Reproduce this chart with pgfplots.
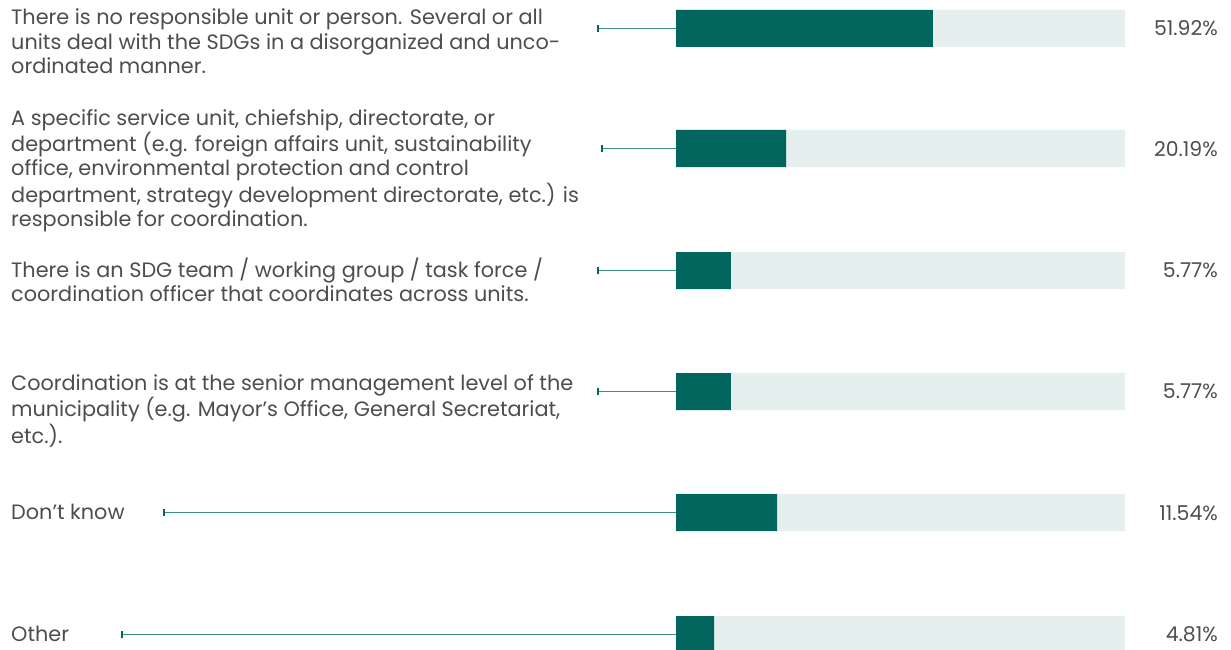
\documentclass[border=0pt]{standalone}
\usepackage{fontspec}
\setmainfont{Poppins}
\usepackage{pgfplots}
\pgfplotsset{compat=1.18}
\usetikzlibrary{arrows.meta}

\definecolor{barDark}{HTML}{02665E}
\definecolor{barLight}{HTML}{E5EFED}
\definecolor{leader}{HTML}{3F8E84}
\definecolor{txt}{HTML}{4D4D4D}

\tikzset{leaderline/.style={leader, line width=1.6pt, mark=none,
    {Bar[width=7pt,line width=1.6pt,color=barDark]}-}}

\begin{document}
\begin{tikzpicture}
\useasboundingbox (0pt,0pt) rectangle (1231pt,650pt);
% canvas axis in pixel units: labels, leader lines, percentages
\begin{axis}[
    at={(0pt,0pt)}, anchor=south west,
    width=1231pt, height=650pt, scale only axis,
    xmin=0, xmax=1231, ymin=0, ymax=650, y dir=reverse,
    hide axis, clip=false,
]
\addplot[leaderline] coordinates {(597,28.5) (676,28.5)};
\addplot[leaderline] coordinates {(601,148.5) (676,148.5)};
\addplot[leaderline] coordinates {(597,270.5) (676,270.5)};
\addplot[leaderline] coordinates {(597,391.5) (676,391.5)};
\addplot[leaderline] coordinates {(163,512.5) (676,512.5)};
\addplot[leaderline] coordinates {(121,634.5) (676,634.5)};

\tikzset{lab/.style={anchor=base west, text=txt, inner sep=0pt,
    font=\fontsize{20.8}{24.2}\selectfont}}
\tikzset{pct/.style={anchor=base east, text=txt, inner sep=0pt,
    font=\fontsize{20.4}{24}\selectfont}}
\node[lab] at (axis cs:11,25) {\begin{tabular}[t]{@{}l@{}}There is no responsible unit or person. Several or all\\units deal with the SDGs in a disorganized and unco-\\ordinated manner.\end{tabular}};
\node[lab] at (axis cs:11,125) {\begin{tabular}[t]{@{}l@{}}A specific service unit, chiefship, directorate, or\\department (e.g. foreign affairs unit, sustainability\\office, environmental protection and control\\department, strategy development directorate, etc.) is\\responsible for coordination.\end{tabular}};
\node[lab] at (axis cs:11,277) {\begin{tabular}[t]{@{}l@{}}There is an SDG team / working group / task force /\\coordination officer that coordinates across units.\end{tabular}};
\node[lab] at (axis cs:11,390) {\begin{tabular}[t]{@{}l@{}}Coordination is at the senior management level of the\\municipality (e.g. Mayor's Office, General Secretariat,\\etc.).\end{tabular}};
\node[lab] at (axis cs:11,519) {Don’t know};
\node[lab] at (axis cs:11,641) {Other};

\node[pct] at (axis cs:1218,36) {51.92\%};
\node[pct] at (axis cs:1218,157) {20.19\%};
\node[pct] at (axis cs:1218,277) {5.77\%};
\node[pct] at (axis cs:1218,398) {5.77\%};
\node[pct] at (axis cs:1218,520) {11.54\%};
\node[pct] at (axis cs:1218,641) {4.81\%};
\end{axis}

% bar axis: 0..100 spans the light track (676px..1125px)
\begin{axis}[
    at={(676pt,0pt)}, anchor=south west,
    width=449pt, height=650pt, scale only axis,
    xmin=0, xmax=100, ymin=0, ymax=650, y dir=reverse,
    hide axis,
    xbar, bar width=37pt, bar shift=0pt,
]
\addplot[fill=barLight, draw=none] coordinates {
  (100,28.5) (100,148.5) (100,270.5) (100,391.5) (100,512.5) (100,634.5)};
\addplot[fill=barDark, draw=none] coordinates {
  (57.2,28.5) (24.5,148.5) (12.2,270.5) (12.2,391.5) (22.5,512.5) (8.5,634.5)};
\end{axis}
\end{tikzpicture}
\end{document}
